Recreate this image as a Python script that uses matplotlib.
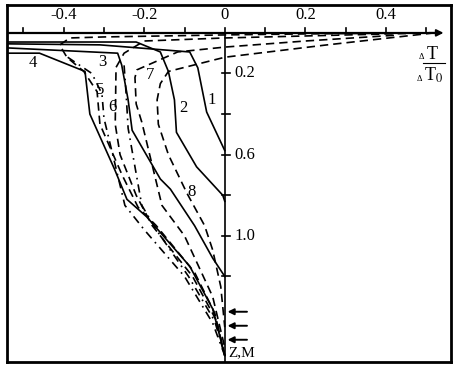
import numpy as np
import matplotlib
matplotlib.use("Agg")
import matplotlib.pyplot as plt

plt.rcParams["font.family"] = ["Liberation Serif", "DejaVu Serif"]
plt.rcParams["mathtext.fontset"] = "stix"

# ----------------------------
# Data (dT/dT0 vs depth Z, m)
# ----------------------------
x_ticks = [-0.5, -0.4, -0.3, -0.2, -0.1, 0.0, 0.1, 0.2, 0.3, 0.4, 0.5]
x_labels = {-0.4: "-0.4", -0.2: "-0.2", 0.0: "0", 0.2: "0.2", 0.4: "0.4"}
z_ticks = [0.2, 0.4, 0.6, 0.8, 1.0, 1.2]
z_labels = {0.2: "0.2", 0.6: "0.6", 1.0: "1.0"}
arrow_depths = [1.374, 1.443, 1.512]

c1_x = [-0.54, -0.31, -0.087, -0.067, -0.045, 0.0]
c1_z = [0.054, 0.059, 0.094, 0.172, 0.39, 0.58]

c2_x = [-0.54, -0.22, -0.16, -0.14, -0.125, -0.12, -0.07, -0.005, 0.0]
c2_z = [0.045, 0.045, 0.094, 0.19, 0.33, 0.49, 0.66, 0.80, 0.83]

c3_x = [-0.54, -0.266, -0.256, -0.24, -0.23, -0.16, -0.135, -0.075, -0.03, 0.0]
c3_z = [0.074, 0.10, 0.158, 0.33, 0.48, 0.72, 0.77, 0.95, 1.11, 1.20]

c4_x = [-0.54, -0.46, -0.347, -0.335, -0.273, -0.243, -0.194, -0.087, -0.03, 0.0]
c4_z = [0.10, 0.10, 0.19, 0.40, 0.675, 0.82, 0.906, 1.15, 1.36, 1.59]

c5_x = [0.5, 0.2, 0.0, -0.3, -0.385, -0.41, -0.392, -0.35, -0.317, -0.31,
        -0.255, -0.215, -0.17, -0.075, -0.025, 0.0]
c5_z = [0.0, 0.005, 0.01, 0.02, 0.025, 0.06, 0.12, 0.19, 0.29, 0.45,
        0.70, 0.86, 0.95, 1.18, 1.38, 1.59]

c6_x = [0.45, 0.0, -0.2, -0.25, -0.27, -0.272, -0.26, -0.22, -0.18, -0.08, -0.02, 0.0]
c6_z = [0.003, 0.025, 0.04, 0.10, 0.17, 0.45, 0.60, 0.80, 0.95, 1.20, 1.42, 1.59]

c7_x = [0.42, 0.2, 0.0, -0.117, -0.218, -0.223, -0.22, -0.206, -0.156, -0.10, -0.03, 0.0]
c7_z = [0.012, 0.04, 0.07, 0.094, 0.182, 0.22, 0.35, 0.44, 0.85, 1.0, 1.30, 1.55]

c8_x = [0.52, 0.25, 0.0, -0.14, -0.16, -0.168, -0.165, -0.14, -0.094, -0.05, -0.03, -0.01, 0.0]
c8_z = [0.0, 0.06, 0.12, 0.19, 0.25, 0.33, 0.45, 0.60, 0.79, 0.95, 1.07, 1.25, 1.45]

# dotted (dash-dot) extra profiles
d1_x = [-0.39, -0.33, -0.305, -0.3, -0.248, -0.20, -0.10, -0.03, 0.0]
d1_z = [0.12, 0.20, 0.30, 0.42, 0.85, 0.97, 1.20, 1.43, 1.59]
d2_x = [-0.25, -0.245, -0.24, -0.206, -0.17, -0.09, -0.025, 0.0]
d2_z = [0.16, 0.30, 0.47, 0.85, 0.97, 1.20, 1.42, 1.59]

curves = [
    (c1_x, c1_z, "-"), (c2_x, c2_z, "-"), (c3_x, c3_z, "-"), (c4_x, c4_z, "-"),
    (c5_x, c5_z, (0, (5, 3))), (c6_x, c6_z, (0, (5, 3))),
    (c7_x, c7_z, (0, (5, 3))), (c8_x, c8_z, (0, (5, 3))),
    (d1_x, d1_z, (0, (5, 3, 1, 3))), (d2_x, d2_z, (0, (5, 3, 1, 3))),
]

curve_labels = ["1", "2", "3", "4", "5", "6", "7", "8"]
label_x = [-0.032, -0.104, -0.303, -0.476, -0.31, -0.28, -0.186, -0.082]
label_z = [0.33, 0.37, 0.143, 0.148, 0.28, 0.365, 0.207, 0.783]

# ----------------------------
# Plot
# ----------------------------
fig = plt.figure(figsize=(4.59, 3.75), dpi=100)
ax = fig.add_axes([0.015, 0.035, 0.967, 0.952])
ax.set_xlim(-0.541, 0.561)
ax.set_ylim(1.621, -0.138)
ax.set_xticks([])
ax.set_yticks([])
for sp in ax.spines.values():
    sp.set_linewidth(2)

# inner axes
ax.plot([-0.54, 0.52], [0, 0], color="k", lw=1.6)
ax.annotate("", xy=(0.55, 0), xytext=(0.50, 0),
            arrowprops=dict(arrowstyle="-|>", color="k", lw=1.4, mutation_scale=10))
ax.plot([0, 0], [0, 1.621], color="k", lw=1.2)

for t in x_ticks:
    ax.plot([t, t], [-0.022, 0.0], color="k", lw=1.2)
    if t in x_labels:
        ax.text(t, -0.05, x_labels[t], ha="center", va="bottom", fontsize=12)
for t in z_ticks:
    ax.plot([-0.006, 0.012], [t, t], color="k", lw=1.2)
    if t in z_labels:
        ax.text(0.025, t, z_labels[t], ha="left", va="center", fontsize=12)

for d in arrow_depths:
    ax.annotate("", xy=(0.0, d), xytext=(0.062, d),
                arrowprops=dict(arrowstyle="-|>", color="k", lw=1.4, mutation_scale=9))

for cx, cz, ls in curves:
    ax.plot(cx, cz, color="k", lw=1.2, linestyle=ls)

for lab, lx, lz in zip(curve_labels, label_x, label_z):
    ax.text(lx, lz, lab, ha="center", va="center", fontsize=12)

ax.text(0.01, 1.575, "Z,M", ha="left", va="center", fontsize=11)

# dT / dT0 label
ax.text(0.494, 0.128, "\u0394", ha="right", va="baseline", fontsize=6)
ax.text(0.516, 0.128, "T", ha="center", va="baseline", fontsize=13)
ax.plot([0.492, 0.546], [0.148, 0.148], color="k", lw=0.8)
ax.text(0.490, 0.236, "\u0394", ha="right", va="baseline", fontsize=6)
ax.text(0.518, 0.236, "T$_0$", ha="center", va="baseline", fontsize=13)

plt.savefig("out.png", dpi=100)
